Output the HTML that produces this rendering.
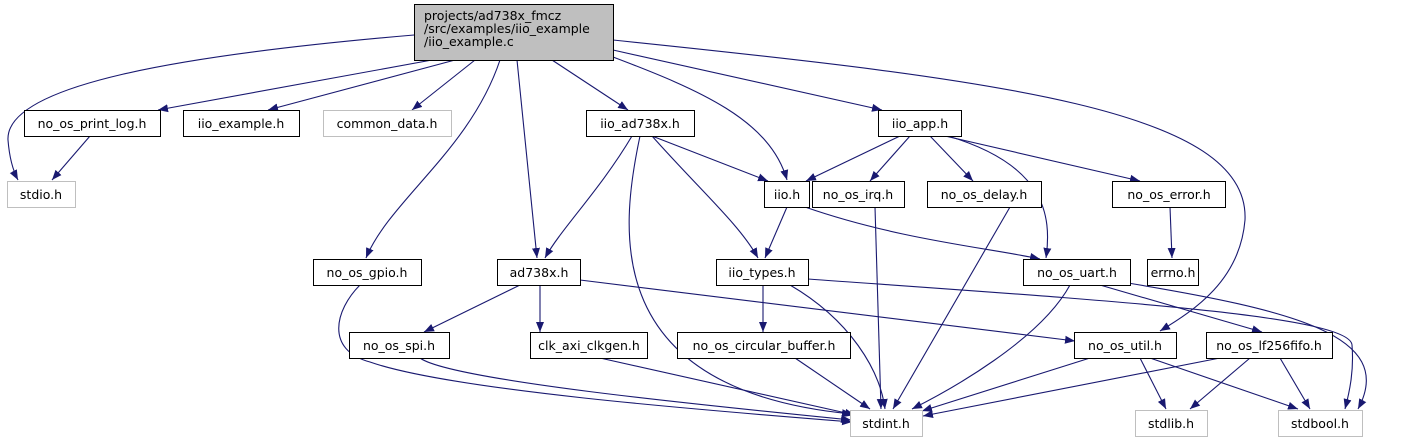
<!DOCTYPE html>
<html><head><meta charset="utf-8"><style>
html,body{margin:0;padding:0;background:#fff;}
svg{display:block;}
text{font-family:"DejaVu Sans","Liberation Sans",sans-serif;font-size:12.5px;fill:#000;}
</style></head><body>
<svg width="1402" height="440" viewBox="0 0 1402 440" xmlns="http://www.w3.org/2000/svg">
<defs>
<marker id="a" viewBox="0 0 10 10" refX="10" refY="5" markerWidth="10" markerHeight="10" markerUnits="userSpaceOnUse" orient="auto">
<path d="M0,1 L10,5 L0,9 z" fill="#191970"/>
</marker>
</defs>
<g fill="none" stroke="#191970" stroke-width="1.1" marker-end="url(#a)">
<path d="M414,35 C180,55 5,85 8,140 Q10,165 18,180"/>
<path d="M432,60 L158,110"/>
<path d="M455,60 L268,110"/>
<path d="M475,60 L412,110"/>
<path d="M500,60 C470,150 390,200 366,258"/>
<path d="M517,60 L537,258"/>
<path d="M552,60 L628,110"/>
<path d="M613,57 C700,90 770,120 787,180"/>
<path d="M613,50 L882,110"/>
<path d="M613,40 C1000,80 1250,110 1245,220 C1240,280 1195,310 1160,331"/>
<path d="M90,136 L52,180"/>
<path d="M632,136 C600,190 560,230 545,258"/>
<path d="M640,136 C620,230 600,390 852,414"/>
<path d="M652,136 L768,181"/>
<path d="M652,136 C700,190 740,225 758,258"/>
<path d="M900,136 L806,181"/>
<path d="M910,136 L870,181"/>
<path d="M930,136 L973,181"/>
<path d="M945,136 L1140,181"/>
<path d="M948,136 C1045,165 1052,215 1046,258"/>
<path d="M787,207 L765,258"/>
<path d="M805,207 C900,240 990,248 1040,259"/>
<path d="M875,207 L881,409"/>
<path d="M1010,207 L893,409"/>
<path d="M1170,207 L1172,258"/>
<path d="M360,285 C335,310 325,350 370,362 C450,390 700,410 852,422"/>
<path d="M520,285 L424,332"/>
<path d="M540,285 L540,332"/>
<path d="M580,280 L1075,341"/>
<path d="M763,285 L763,332"/>
<path d="M790,285 C850,320 880,370 885,409"/>
<path d="M808,279 C1100,300 1350,315 1352,345 C1354,370 1350,390 1345,409"/>
<path d="M1070,285 C1040,340 950,390 912,409"/>
<path d="M1100,285 L1262,332"/>
<path d="M1128,283 C1290,310 1398,335 1358,409"/>
<path d="M420,358 C450,380 700,405 851,420"/>
<path d="M600,358 L855,415"/>
<path d="M795,358 L870,409"/>
<path d="M1090,358 L922,411"/>
<path d="M1140,358 L1166,409"/>
<path d="M1150,358 L1298,409"/>
<path d="M1220,358 L923,416"/>
<path d="M1250,358 L1190,409"/>
<path d="M1280,358 L1310,409"/>
</g>
<g stroke-width="1">
<rect x="414.5" y="4.5" width="199" height="56" fill="#bfbfbf" stroke="#000"/>
<rect x="7.5" y="181.5" width="68" height="26" fill="#fff" stroke="#bfbfbf"/>
<rect x="24.5" y="110.5" width="136" height="26" fill="#fff" stroke="#000"/>
<rect x="183.5" y="110.5" width="116" height="26" fill="#fff" stroke="#000"/>
<rect x="323.5" y="110.5" width="128" height="26" fill="#fff" stroke="#bfbfbf"/>
<rect x="586.5" y="110.5" width="108" height="26" fill="#fff" stroke="#000"/>
<rect x="878.5" y="110.5" width="83" height="26" fill="#fff" stroke="#000"/>
<rect x="764.5" y="181.5" width="45" height="26" fill="#fff" stroke="#000"/>
<rect x="812.5" y="181.5" width="92" height="26" fill="#fff" stroke="#000"/>
<rect x="927.5" y="181.5" width="114" height="26" fill="#fff" stroke="#000"/>
<rect x="1112.5" y="181.5" width="113" height="26" fill="#fff" stroke="#000"/>
<rect x="1147.5" y="259.5" width="51" height="26" fill="#fff" stroke="#000"/>
<rect x="313.5" y="259.5" width="108" height="26" fill="#fff" stroke="#000"/>
<rect x="497.5" y="259.5" width="83" height="26" fill="#fff" stroke="#000"/>
<rect x="716.5" y="259.5" width="92" height="26" fill="#fff" stroke="#000"/>
<rect x="1023.5" y="259.5" width="107" height="26" fill="#fff" stroke="#000"/>
<rect x="349.5" y="332.5" width="100" height="26" fill="#fff" stroke="#000"/>
<rect x="530.5" y="332.5" width="117" height="26" fill="#fff" stroke="#000"/>
<rect x="677.5" y="332.5" width="173" height="26" fill="#fff" stroke="#000"/>
<rect x="1074.5" y="332.5" width="102" height="26" fill="#fff" stroke="#000"/>
<rect x="1206.5" y="332.5" width="126" height="26" fill="#fff" stroke="#000"/>
<rect x="850.5" y="410.5" width="72" height="26" fill="#fff" stroke="#bfbfbf"/>
<rect x="1135.5" y="410.5" width="72" height="26" fill="#fff" stroke="#bfbfbf"/>
<rect x="1278.5" y="410.5" width="84" height="26" fill="#fff" stroke="#bfbfbf"/>
</g>
<g>
<text x="424" y="20">projects/ad738x_fmcz</text>
<text x="424" y="33">/src/examples/iio_example</text>
<text x="424" y="46">/iio_example.c</text>
<g text-anchor="middle">
<text x="41" y="199">stdio.h</text>
<text x="92" y="128">no_os_print_log.h</text>
<text x="241" y="128">iio_example.h</text>
<text x="387" y="128">common_data.h</text>
<text x="640" y="128">iio_ad738x.h</text>
<text x="920" y="128">iio_app.h</text>
<text x="787" y="199">iio.h</text>
<text x="858" y="199">no_os_irq.h</text>
<text x="984" y="199">no_os_delay.h</text>
<text x="1169" y="199">no_os_error.h</text>
<text x="1173" y="277">errno.h</text>
<text x="367" y="277">no_os_gpio.h</text>
<text x="539" y="277">ad738x.h</text>
<text x="762" y="277">iio_types.h</text>
<text x="1077" y="277">no_os_uart.h</text>
<text x="399" y="350">no_os_spi.h</text>
<text x="589" y="350">clk_axi_clkgen.h</text>
<text x="764" y="350">no_os_circular_buffer.h</text>
<text x="1125" y="350">no_os_util.h</text>
<text x="1269" y="350">no_os_lf256fifo.h</text>
<text x="886" y="428">stdint.h</text>
<text x="1171" y="428">stdlib.h</text>
<text x="1320" y="428">stdbool.h</text>
</g>
</g>
</svg>
</body></html>
